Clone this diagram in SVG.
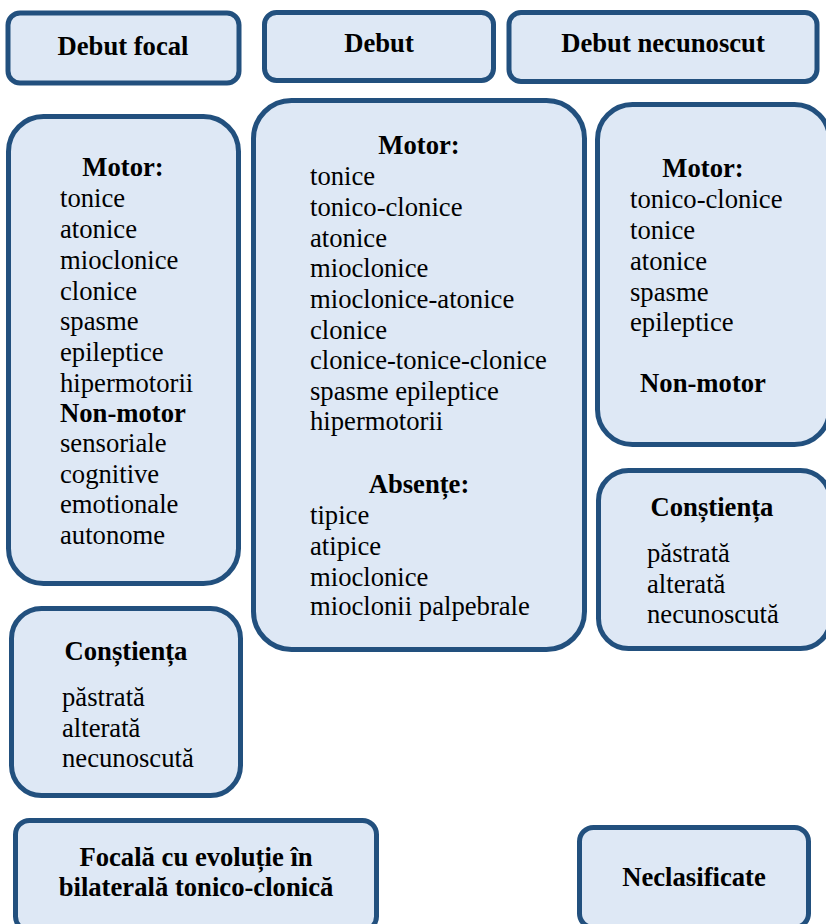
<svg xmlns="http://www.w3.org/2000/svg" width="826" height="924" viewBox="0 0 826 924">
<style>
.box{fill:#DEE8F5;stroke:#22507E;stroke-width:5}
.h{font-weight:bold;font-size:26.67px;text-anchor:middle;fill:#000}
.t{font-size:26.67px;fill:#000}
.b{font-weight:bold}
</style>
<rect width="826" height="924" fill="#fff"/>
<g id="debut-focal"><rect class="box" x="8" y="13" width="231" height="70" rx="12"/><text font-family="Liberation Serif" class="h" x="123" y="55">Debut focal</text></g>
<g id="debut"><rect class="box" x="264.5" y="12.5" width="229" height="68" rx="12"/><text font-family="Liberation Serif" class="h" x="379" y="52">Debut</text></g>
<g id="debut-necunoscut"><rect class="box" x="509" y="12.5" width="308" height="69" rx="12"/><text font-family="Liberation Serif" class="h" x="663" y="52">Debut necunoscut</text></g>
<g id="focal-motor"><rect class="box" x="8.5" y="116.5" width="230" height="467" rx="35"/>
<text font-family="Liberation Serif" class="h" x="123" y="176">Motor:</text>
<text font-family="Liberation Serif" class="t" x="60" y="207">tonice</text>
<text font-family="Liberation Serif" class="t" x="60" y="238">atonice</text>
<text font-family="Liberation Serif" class="t" x="60" y="269">mioclonice</text>
<text font-family="Liberation Serif" class="t" x="60" y="300">clonice</text>
<text font-family="Liberation Serif" class="t" x="60" y="330">spasme</text>
<text font-family="Liberation Serif" class="t" x="60" y="361">epileptice</text>
<text font-family="Liberation Serif" class="t" x="60" y="392">hipermotorii</text>
<text font-family="Liberation Serif" class="t b" x="60" y="422">Non-motor</text>
<text font-family="Liberation Serif" class="t" x="60" y="452">sensoriale</text>
<text font-family="Liberation Serif" class="t" x="60" y="483">cognitive</text>
<text font-family="Liberation Serif" class="t" x="60" y="513">emotionale</text>
<text font-family="Liberation Serif" class="t" x="60" y="544">autonome</text>
</g>
<g id="debut-motor"><rect class="box" x="253.5" y="100.5" width="331" height="549" rx="38"/>
<text font-family="Liberation Serif" class="h" x="419" y="154">Motor:</text>
<text font-family="Liberation Serif" class="t" x="310" y="185">tonice</text>
<text font-family="Liberation Serif" class="t" x="310" y="216">tonico-clonice</text>
<text font-family="Liberation Serif" class="t" x="310" y="247">atonice</text>
<text font-family="Liberation Serif" class="t" x="310" y="277">mioclonice</text>
<text font-family="Liberation Serif" class="t" x="310" y="308">mioclonice-atonice</text>
<text font-family="Liberation Serif" class="t" x="310" y="339">clonice</text>
<text font-family="Liberation Serif" class="t" x="310" y="369">clonice-tonice-clonice</text>
<text font-family="Liberation Serif" class="t" x="310" y="400">spasme epileptice</text>
<text font-family="Liberation Serif" class="t" x="310" y="430">hipermotorii</text>
<text font-family="Liberation Serif" class="h" x="419" y="493">Absențe:</text>
<text font-family="Liberation Serif" class="t" x="310" y="524">tipice</text>
<text font-family="Liberation Serif" class="t" x="310" y="555">atipice</text>
<text font-family="Liberation Serif" class="t" x="310" y="586">mioclonice</text>
<text font-family="Liberation Serif" class="t" x="310" y="615">mioclonii palpebrale</text>
</g>
<g id="necunoscut-motor"><rect class="box" x="597.5" y="104.5" width="232" height="340" rx="35"/>
<text font-family="Liberation Serif" class="h" x="703" y="177">Motor:</text>
<text font-family="Liberation Serif" class="t" x="630" y="208">tonico-clonice</text>
<text font-family="Liberation Serif" class="t" x="630" y="239">tonice</text>
<text font-family="Liberation Serif" class="t" x="630" y="270">atonice</text>
<text font-family="Liberation Serif" class="t" x="630" y="301">spasme</text>
<text font-family="Liberation Serif" class="t" x="630" y="331">epileptice</text>
<text font-family="Liberation Serif" class="h" x="703" y="392">Non-motor</text>
</g>
<g id="necunoscut-constienta"><rect class="box" x="598.5" y="470.5" width="232" height="178" rx="30"/>
<text font-family="Liberation Serif" class="h" x="712" y="516">Conștiența</text>
<text font-family="Liberation Serif" class="t" x="647" y="562">păstrată</text>
<text font-family="Liberation Serif" class="t" x="647" y="593">alterată</text>
<text font-family="Liberation Serif" class="t" x="647" y="623">necunoscută</text>
</g>
<g id="focal-constienta"><rect class="box" x="11.5" y="608.5" width="229" height="187" rx="30"/>
<text font-family="Liberation Serif" class="h" x="126" y="660">Conștiența</text>
<text font-family="Liberation Serif" class="t" x="62" y="706">păstrată</text>
<text font-family="Liberation Serif" class="t" x="62" y="737">alterată</text>
<text font-family="Liberation Serif" class="t" x="62" y="767">necunoscută</text>
</g>
<g id="focal-bilateral"><rect class="box" x="15.5" y="820.5" width="361" height="110" rx="14"/>
<text font-family="Liberation Serif" class="h" x="196" y="866">Focală cu evoluție în</text>
<text font-family="Liberation Serif" class="h" x="196" y="896">bilaterală tonico-clonică</text>
</g>
<g id="neclasificate"><rect class="box" x="579.5" y="827.5" width="229" height="100" rx="14"/>
<text font-family="Liberation Serif" class="h" x="694" y="886">Neclasificate</text>
</g>
<g id="connectors"/>
</svg>
